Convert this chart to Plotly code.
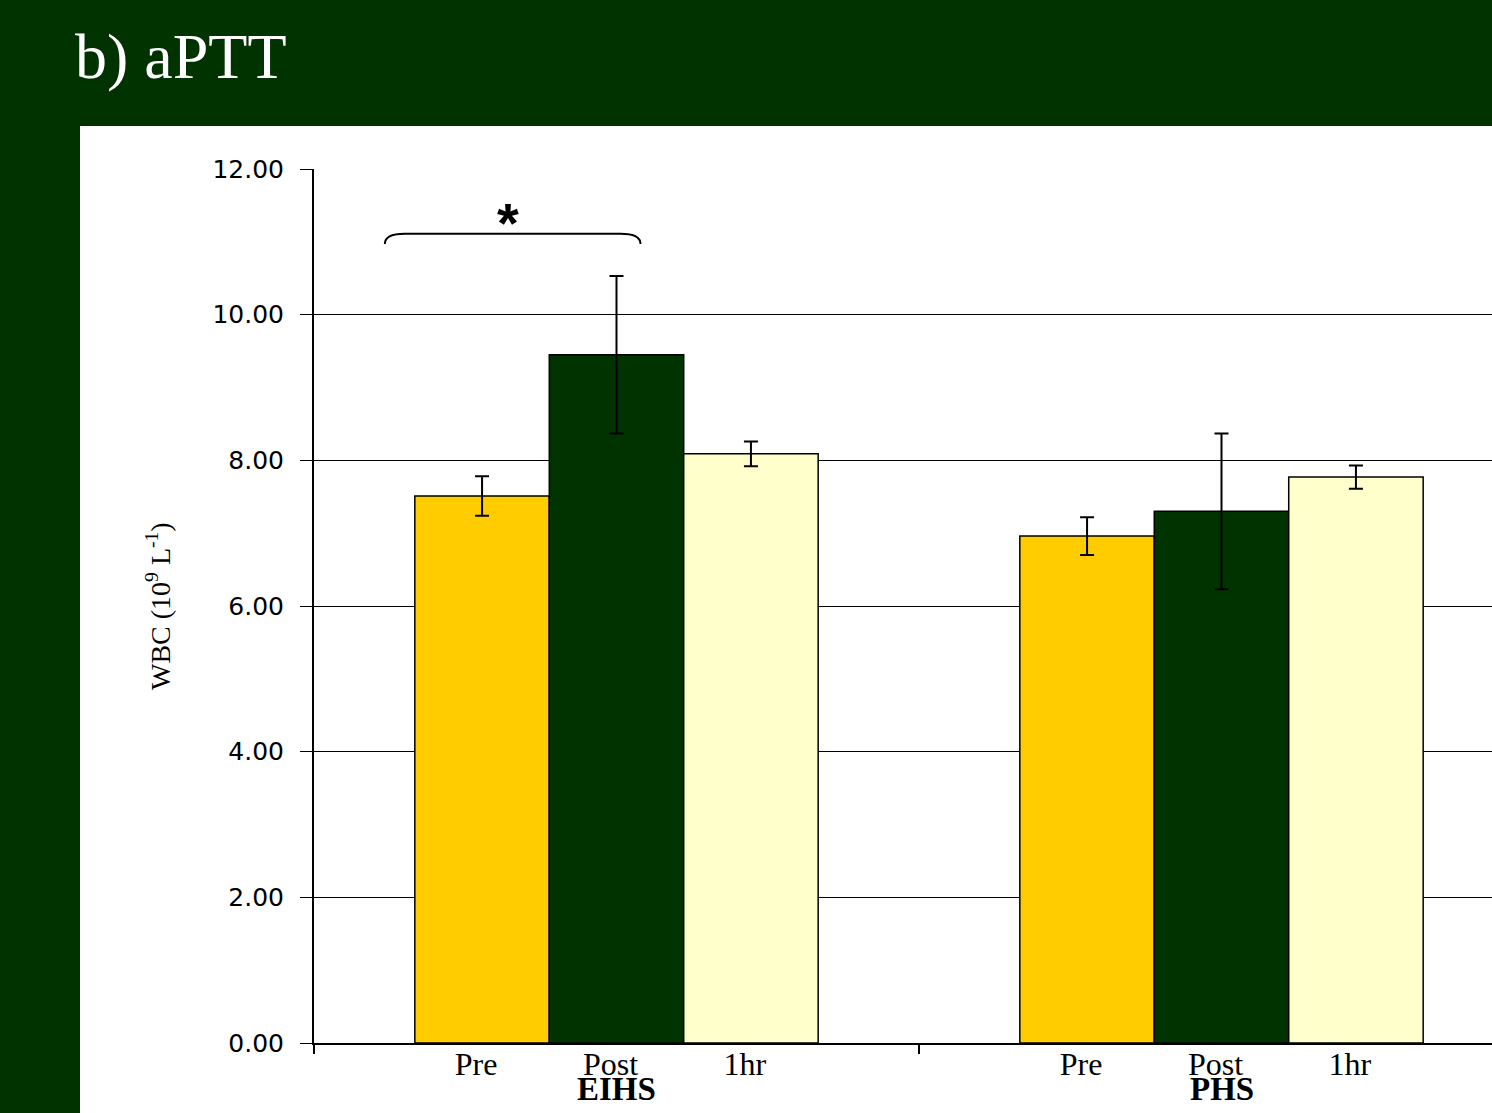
import plotly.graph_objects as go

# Groups and timepoints
groups = ["EIHS", "PHS"]
timepoints = ["Pre", "Post", "1hr"]

# WBC means and error (10^9 L^-1) per timepoint, one value per group
wbc_pre = [7.51, 6.96]
wbc_post = [9.45, 7.30]
wbc_1hr = [8.09, 7.77]
err_pre = [0.27, 0.26]
err_post = [1.08, 1.07]
err_1hr = [0.17, 0.16]

values = [wbc_pre, wbc_post, wbc_1hr]
errors = [err_pre, err_post, err_1hr]
colors = ["#FFCC00", "#003300", "#FFFFCC"]

yticks = [0, 2, 4, 6, 8, 10, 12]

BG = "#003300"
W, H = 1492, 1113
ML, MT, MB = 314, 169, 70
plot_w = W - ML
plot_h = H - MT - MB

bargap = 1 / 3
bar_w = (1 - bargap) / len(timepoints)
group_px = 605  # pixel width of one category slot
x_end = -0.5 + plot_w / group_px


def paper_y(py):
    """Convert a pixel row of the page into paper y."""
    return (H - MB - py) / plot_h


fig = go.Figure()
group_x = list(range(len(groups)))
for name, vals, errs, col in zip(timepoints, values, errors, colors):
    fig.add_trace(go.Bar(
        x=group_x, y=vals, name=name,
        marker=dict(color=col, line=dict(color="black", width=1.5)),
        error_y=dict(type="data", array=errs, color="black", thickness=2, width=7),
    ))

# Bar-centred labels for each timepoint
tick_pos, tick_txt = [], []
for g in group_x:
    for i, t in enumerate(timepoints):
        tick_pos.append(g + (i - 1) * bar_w - 6 / group_px)
        tick_txt.append(t)

serif = "Liberation Serif, Times New Roman, serif"
sans = "DejaVu Sans, Verdana, sans-serif"

fig.update_layout(
    width=W, height=H,
    paper_bgcolor=BG, plot_bgcolor="white",
    margin=dict(l=ML, r=0, t=MT, b=MB, pad=0),
    barmode="group", bargap=bargap, bargroupgap=0,
    showlegend=False,
    xaxis=dict(
        range=[-0.5, x_end], showgrid=False, zeroline=False,
        showline=True, linecolor="black", linewidth=2,
        tickmode="array", tickvals=tick_pos, ticktext=tick_txt,
        ticks="", tickfont=dict(family=serif, size=32, color="black"),
        ticklabelstandoff=-8,
        minor=dict(tickmode="array", tickvals=[-0.5, 0.5, 1.5], ticks="outside",
                   ticklen=9, tickwidth=1.5, tickcolor="black", showgrid=False),
    ),
    yaxis=dict(
        range=[0, 12], tickmode="array", tickvals=yticks,
        tickformat=".2f", showgrid=True, gridcolor="black", gridwidth=1.2,
        zeroline=False, showline=True, linecolor="black", linewidth=2,
        ticks="outside", ticklen=12, tickwidth=1.2, tickcolor="black",
        tickfont=dict(family=sans, size=25, color="black"),
        ticklabelstandoff=11,
    ),
)

# White panel behind the chart
fig.add_shape(type="rect", xref="paper", yref="paper", layer="below",
              x0=(80 - ML) / plot_w, x1=1.0,
              y0=paper_y(H), y1=paper_y(126),
              fillcolor="white", line=dict(width=0))

# Slide title
fig.add_annotation(text="b) aPTT", xref="paper", yref="paper",
                   x=(73 - ML) / plot_w, y=paper_y(57),
                   xanchor="left", yanchor="middle", showarrow=False,
                   font=dict(family=serif, size=64, color="white"))

# Y axis title
fig.add_annotation(text="WBC (10<sup>9</sup> L<sup>-1</sup>)", xref="paper", yref="paper",
                   x=(158 - ML) / plot_w, y=0.5, textangle=-90,
                   xanchor="center", yanchor="middle", showarrow=False,
                   font=dict(family=serif, size=28, color="black"))

# Group names below the timepoint labels
for g, name in zip(group_x, groups):
    fig.add_annotation(text="<b>" + name + "</b>", x=g, xref="x",
                       y=paper_y(1089), yref="paper",
                       xanchor="center", yanchor="middle", showarrow=False,
                       font=dict(family=serif, size=33, color="black"))

# Significance bracket over EIHS Pre vs Post
bx0 = 0 - bar_w * 1.5 + (384 - 414) / group_px
bx1 = 0 + (640 - 616) / group_px
dx = 20 / group_px
y_top, y_end = 11.11, 10.97
fig.add_shape(type="path", xref="x", yref="y",
              path=f"M {bx0},{y_end} Q {bx0},{y_top} {bx0 + dx},{y_top} "
                   f"L {bx1 - dx},{y_top} Q {bx1},{y_top} {bx1},{y_end}",
              line=dict(color="black", width=2))
fig.add_annotation(text="<b>*</b>", x=(bx0 + bx1) / 2 - 0.008, y=11.26, xref="x", yref="y",
                   showarrow=False, xanchor="center", yanchor="middle",
                   font=dict(family="Liberation Sans, Arial, sans-serif", size=56, color="black"))

fig.write_html("out.html")
